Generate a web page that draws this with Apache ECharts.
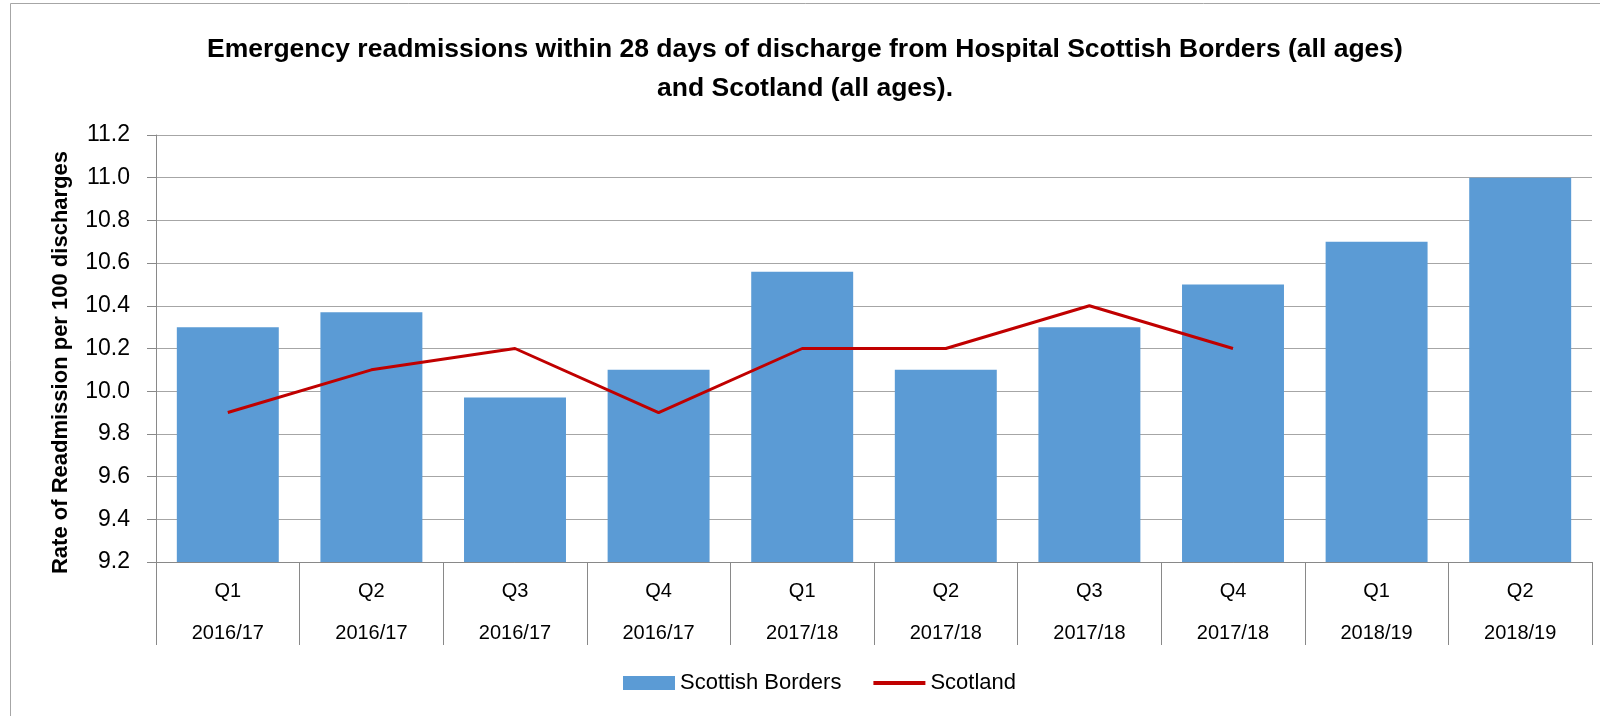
<!DOCTYPE html>
<html>
<head>
<meta charset="utf-8">
<script src="https://cdn.jsdelivr.net/npm/echarts@6/dist/echarts.min.js"></script>
<style>
  html, body { margin: 0; padding: 0; background: #fff; }
  #chart { width: 1600px; height: 716px; }
</style>
</head>
<body>
<div id="chart"></div>
<script>
// data
const quarters = ["Q1", "Q2", "Q3", "Q4", "Q1", "Q2", "Q3", "Q4", "Q1", "Q2"];
const years = ["2016/17", "2016/17", "2016/17", "2016/17", "2017/18", "2017/18", "2017/18", "2017/18", "2018/19", "2018/19"];
const bordersRate = [10.3, 10.37, 9.97, 10.1, 10.56, 10.1, 10.3, 10.5, 10.7, 11.0];
const scotlandRate = [9.9, 10.1, 10.2, 9.9, 10.2, 10.2, 10.4, 10.2, null, null];

const categories = quarters.map((q, i) => q + "\n" + years[i]);

const chart = echarts.init(document.getElementById("chart"));

const font = "Liberation Sans, Arial, sans-serif";

chart.setOption({
  animation: false,
  textStyle: { fontFamily: font },
  title: {
    text: "Emergency readmissions within 28 days of discharge from Hospital Scottish Borders (all ages)\nand Scotland (all ages).",
    left: 800,
    textAlign: "center",
    top: 25,
    textStyle: { fontSize: 26.5, fontWeight: "bold", color: "#000", lineHeight: 39, fontFamily: font }
  },
  graphic: [{
    type: "rect",
    shape: { x: 10.5, y: 3.5, width: 1620, height: 740 },
    style: { fill: "none", stroke: "#a6a6a6", lineWidth: 1 },
    silent: true
  }],
  grid: { left: 156, right: 8, top: 135, bottom: 154 },
  legend: {
    bottom: 17,
    left: 618,
    itemWidth: 52,
    itemHeight: 14,
    itemGap: 32,
    textStyle: { fontSize: 22, color: "#000", fontFamily: font },
    data: [
      { name: "Scottish Borders", icon: "rect" },
      { name: "Scotland", icon: "path://M0,0 H52 V4 H0 Z", itemStyle: { color: "#c00000" } }
    ]
  },
  xAxis: {
    type: "category",
    data: categories,
    axisLine: { lineStyle: { color: "#898989", width: 1 } },
    axisTick: { show: true, length: 83, interval: 0, lineStyle: { color: "#898989" } },
    axisLabel: {
      interval: 0,
      margin: 8,
      fontSize: 20,
      color: "#000",
      lineHeight: 42,
      fontFamily: font
    }
  },
  yAxis: {
    type: "value",
    min: 9.2,
    max: 11.2,
    interval: 0.2,
    name: "Rate of Readmission per 100 discharges",
    nameLocation: "middle",
    nameGap: 84,
    nameTextStyle: { fontSize: 22, fontWeight: "bold", color: "#000", fontFamily: font, padding: [0, 0, 0, -28] },
    axisLine: { show: true, lineStyle: { color: "#898989" } },
    axisTick: { show: true, length: 9, lineStyle: { color: "#898989" } },
    axisLabel: {
      fontSize: 23,
      color: "#000",
      margin: 26,
      fontFamily: font,
      formatter: v => v.toFixed(1)
    },
    splitLine: { show: true, lineStyle: { color: "#a6a6a6", width: 1 } }
  },
  series: [
    {
      name: "Scottish Borders",
      type: "bar",
      data: bordersRate,
      barWidth: "71%",
      itemStyle: { color: "#5b9bd5" }
    },
    {
      name: "Scotland",
      type: "line",
      data: scotlandRate,
      symbol: "none",
      lineStyle: { color: "#c00000", width: 3 },
      itemStyle: { color: "#c00000" }
    }
  ]
});
</script>
</body>
</html>
